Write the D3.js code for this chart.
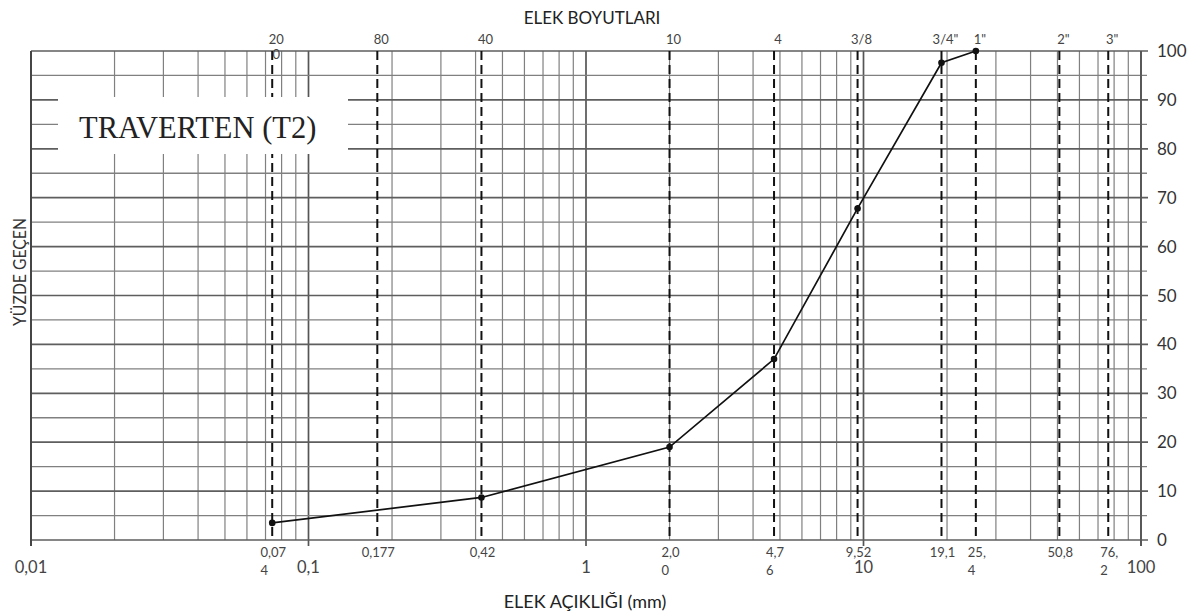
<!DOCTYPE html>
<html><head><meta charset="utf-8">
<script src="https://cdn.jsdelivr.net/npm/d3@7"></script>
<style>
html,body{margin:0;padding:0;background:#fff;}
svg{display:block;}
text{font-family:Lato,"Open Sans",sans-serif;}
</style></head>
<body>
<svg id="chart" width="1202" height="614"></svg>
<script>
// ---- data ----
const sieveSizes = [0.074, 0.177, 0.42, 2.0, 4.76, 9.52, 19.1, 25.4, 50.8, 76.2];
const sieveTopLabels = [["20","0"], ["80"], ["40"], ["10"], ["4"], ["3/8"], ["3/4\""], ["1\""], ["2\""], ["3\""]];
const sieveBottomLabels = [["0,07","4"], ["0,177"], ["0,42"], ["2,0","0"], ["4,7","6"], ["9,52"], ["19,1"], ["25,","4"], ["50,8"], ["76,","2"]];
const majorTicks = [0.01, 0.1, 1, 10, 100];
const majorTickLabels = ["0,01", "0,1", "1", "10", "100"];
const sampleSizes = [0.074, 0.42, 2.0, 4.76, 9.52, 19.1, 25.4];
const percentPassing = [3.5, 8.7, 19, 37, 67.8, 97.6, 100];
const yTicks = [0, 10, 20, 30, 40, 50, 60, 70, 80, 90, 100];
const yGrid = [5, 15, 25, 35, 45, 55, 65, 75, 85, 95];
const chartTitle = "TRAVERTEN (T2)";
const topTitle = "ELEK BOYUTLARI";
const xTitle = "ELEK AÇIKLIĞI (mm)";
const yTitle = "YÜZDE GEÇEN";

// ---- layout ----
const svg = d3.select("#chart");
const x = d3.scaleLog().domain([0.01, 100]).range([31, 1141]);
const y = d3.scaleLinear().domain([0, 100]).range([540, 51]);

// minor log grid
const minor = [];
[0.01, 0.1, 1, 10].forEach(d => { for (let k = 2; k <= 9; k++) minor.push(d * k); });
const g = svg.append("g");
g.selectAll("line.vminor").data(minor).join("line")
  .attr("x1", d => x(d)).attr("x2", d => x(d))
  .attr("y1", y(100)).attr("y2", y(0))
  .attr("stroke", "#808080").attr("stroke-width", 1.2);
g.selectAll("line.vmajor").data(majorTicks).join("line")
  .attr("x1", d => x(d)).attr("x2", d => x(d))
  .attr("y1", y(100)).attr("y2", y(0) + 6)
  .attr("stroke", "#555").attr("stroke-width", 1.7);

// horizontal grid
g.selectAll("line.hgrid5").data(yGrid).join("line")
  .attr("x1", x(0.01)).attr("x2", x(100) + 6)
  .attr("y1", d => y(d)).attr("y2", d => y(d))
  .attr("stroke", "#808080").attr("stroke-width", 1.3);
g.selectAll("line.hgrid10").data(yTicks).join("line")
  .attr("x1", x(0.01)).attr("x2", x(100) + 7)
  .attr("y1", d => y(d)).attr("y2", d => y(d))
  .attr("stroke", "#5e5e5e").attr("stroke-width", 1.7);

// right axis labels
svg.append("g").selectAll("text").data(yTicks).join("text")
  .attr("x", 1157).attr("y", d => y(d) + 6)
  .attr("font-size", 17).attr("fill", "#333")
  .text(d => d);

// dashed sieve lines
svg.append("g").selectAll("line").data(sieveSizes).join("line")
  .attr("x1", d => x(d)).attr("x2", d => x(d))
  .attr("y1", y(100)).attr("y2", y(0) - 2)
  .attr("stroke", "#111").attr("stroke-width", 2)
  .attr("stroke-dasharray", "9,5");

// title box (covers grid and dashed lines)
svg.append("rect").attr("x", 58).attr("y", 97).attr("width", 290).attr("height", 57).attr("fill", "#fff");
svg.append("text").attr("x", 79).attr("y", 138)
  .style("font-family", "'Liberation Serif','DejaVu Serif',serif")
  .attr("font-size", 30.5).attr("fill", "#222").text(chartTitle);

// top sieve labels
const tl = svg.append("g").selectAll("text").data(sieveTopLabels).join("text")
  .attr("font-size", 13).attr("fill", "#444").attr("text-anchor", "middle");
tl.each(function(lines, i) {
  const t = d3.select(this);
  lines.forEach((s, j) => {
    t.append("tspan").attr("x", x(sieveSizes[i]) + 4).attr("y", 44 + j * 15).text(s);
  });
});

// bottom sieve labels
const bl = svg.append("g").selectAll("text").data(sieveBottomLabels).join("text")
  .attr("font-size", 13).attr("fill", "#444");
bl.each(function(lines, i) {
  const t = d3.select(this);
  const first = t.append("tspan").attr("y", 557).text(lines[0]);
  const w = first.node().getComputedTextLength();
  const x0 = x(sieveSizes[i]) - w / 2 + 1;
  first.attr("x", x0);
  if (lines[1]) t.append("tspan").attr("x", x0).attr("y", 575).text(lines[1]);
});

// major x labels
svg.append("g").selectAll("text").data(majorTicks).join("text")
  .attr("x", d => x(d)).attr("y", 573)
  .attr("text-anchor", "middle").attr("font-size", 16.5).attr("fill", "#444")
  .text((d, i) => majorTickLabels[i]);

// axis frame lines
svg.append("line").attr("x1", x(0.01)).attr("x2", x(0.01)).attr("y1", y(100)).attr("y2", y(0) + 6)
  .attr("stroke", "#444").attr("stroke-width", 1.9);
svg.append("line").attr("x1", x(100)).attr("x2", x(100)).attr("y1", y(100)).attr("y2", y(0) + 6)
  .attr("stroke", "#555").attr("stroke-width", 1.7);

// titles
svg.append("text").attr("x", 592).attr("y", 24).attr("text-anchor", "middle")
  .attr("font-size", 17).attr("fill", "#222").text(topTitle);
svg.append("text").attr("x", 585).attr("y", 608).attr("text-anchor", "middle")
  .attr("font-size", 18).attr("fill", "#222").text(xTitle);
svg.append("text").attr("transform", "translate(26,272) rotate(-90)").attr("text-anchor", "middle")
  .attr("font-size", 17).attr("fill", "#333")
  .attr("textLength", 108).attr("lengthAdjust", "spacingAndGlyphs").text(yTitle);

// data line
const pts = sampleSizes.map((d, i) => [d, percentPassing[i]]);
svg.append("path").datum(pts)
  .attr("d", d3.line().x(d => x(d[0])).y(d => y(d[1])))
  .attr("fill", "none").attr("stroke", "#111").attr("stroke-width", 1.7);
svg.append("g").selectAll("circle").data(pts).join("circle")
  .attr("cx", d => x(d[0])).attr("cy", d => y(d[1])).attr("r", 3.3).attr("fill", "#111");
</script>
</body></html>
